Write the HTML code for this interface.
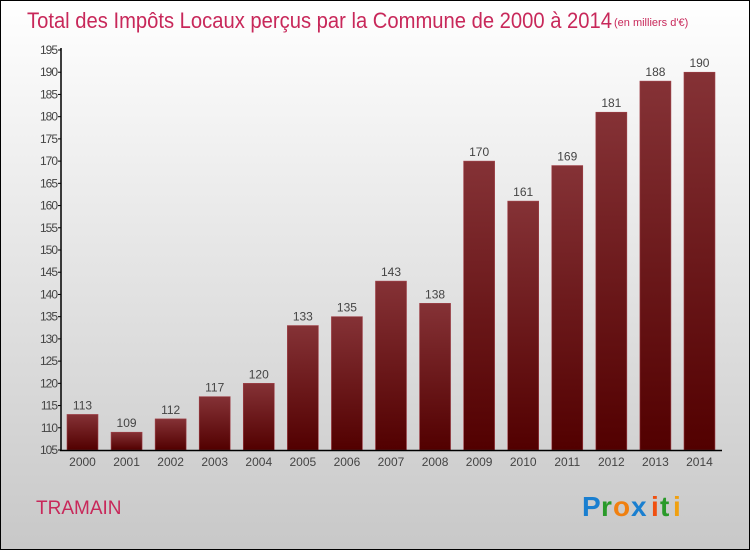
<!DOCTYPE html>
<html><head><meta charset="utf-8"><style>
body{margin:0;width:750px;height:550px;overflow:hidden}
svg text{font-family:"Liberation Sans",sans-serif}
</style></head><body>
<svg width="750" height="550" viewBox="0 0 750 550">
<defs>
<linearGradient id="bg" x1="0" y1="0" x2="0" y2="1"><stop offset="0" stop-color="#ffffff"/><stop offset="1" stop-color="#c8c8c8"/></linearGradient>
<linearGradient id="bar" x1="0" y1="0" x2="0" y2="1"><stop offset="0" stop-color="#853236"/><stop offset="1" stop-color="#520000"/></linearGradient>
</defs>
<rect x="0.5" y="0.5" width="749" height="549" fill="url(#bg)" stroke="#000"/>
<text x="27" y="28" font-size="22" fill="#c8285a" textLength="585" lengthAdjust="spacingAndGlyphs">Total des Impôts Locaux perçus par la Commune de 2000 à 2014</text>
<text x="614" y="26" font-size="11" fill="#c8285a">(en milliers d'€)</text>
<g id="plot"></g>
<text x="36" y="514" font-size="19" fill="#c8285a">TRAMAIN</text>
<g font-size="28" font-weight="bold">
<text x="582" y="516" fill="#1a7fd0">P</text><text x="601" y="516" fill="#2a9a2a">r</text><text x="613" y="516" fill="#f08010">o</text><text x="631" y="516" fill="#1a7fd0">x</text><text x="651" y="516" fill="#f05010">i</text><text x="660" y="516" fill="#2a9a2a">t</text><text x="673" y="516" fill="#f0a010">i</text>
</g>
</svg>
<script>
const categories=["2000","2001","2002","2003","2004","2005","2006","2007","2008","2009","2010","2011","2012","2013","2014"];
const values=[113,109,112,117,120,133,135,143,138,170,161,169,181,188,190];
const yTicks=[105,110,115,120,125,130,135,140,145,150,155,160,165,170,175,180,185,190,195];
const NS="http://www.w3.org/2000/svg";
const g=document.getElementById('plot');
const y=v=>450-(v-105)*400/90;
const x=i=>82.5+i*44.07;
function mk(t,a,p){const e=document.createElementNS(NS,t);for(const k in a)e.setAttribute(k,a[k]);(p||g).appendChild(e);return e;}
values.forEach((v,i)=>{
 const r=mk('rect',{x:x(i)-15.5,y:y(v),width:31,height:450-y(v),fill:'url(#bar)',stroke:'#a04048','stroke-width':0.6});
 
 
 const t=mk('text',{x:x(i),y:y(v)-5,'font-size':12,fill:'#444','text-anchor':'middle'});t.textContent=v;
 
 
 const c=mk('text',{x:x(i),y:466,'font-size':12,fill:'#444','text-anchor':'middle'});c.textContent=categories[i];
 
 
});
yTicks.forEach(v=>{
 mk('line',{x1:58,x2:61,y1:y(v),y2:y(v),stroke:'#000'});
 const t=mk('text',{x:57,y:y(v)+4,'font-size':12,fill:'#444','text-anchor':'end','letter-spacing':'-1'});t.textContent=v;
 
 
});
const ya=mk('line',{x1:61,x2:61,y1:48,y2:451,stroke:'#000','stroke-width':1.5});


const xa=mk('line',{x1:60,x2:722,y1:450.5,y2:450.5,stroke:'#000','stroke-width':1.5});


</script>
</body></html>
